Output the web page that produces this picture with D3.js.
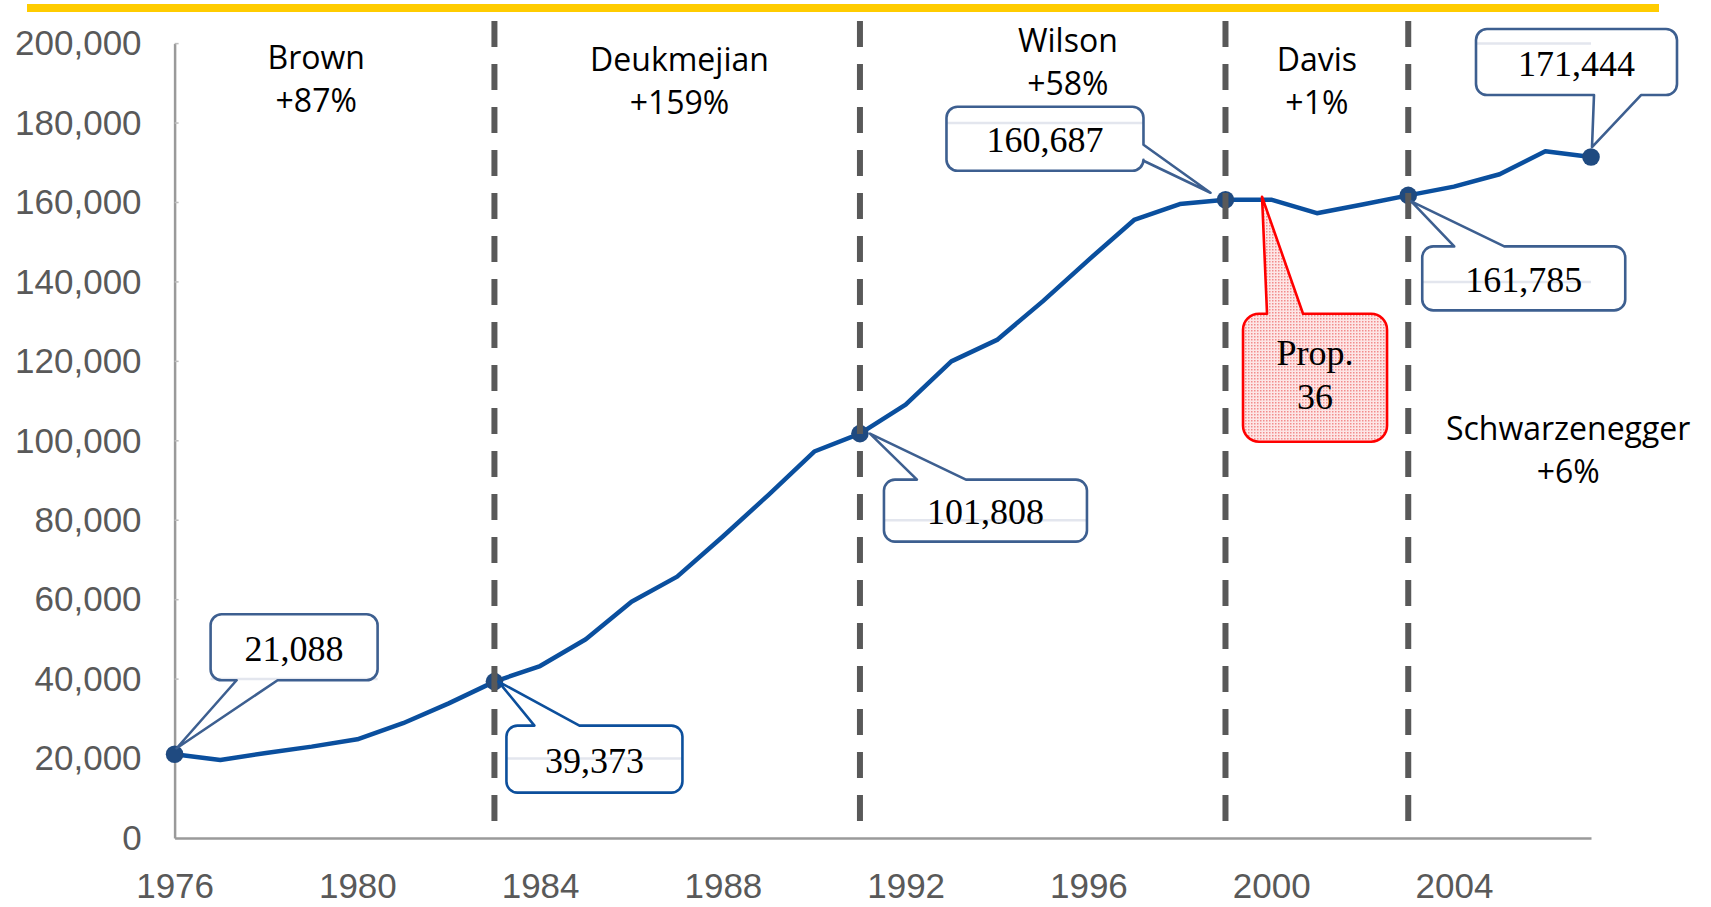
<!DOCTYPE html>
<html>
<head>
<meta charset="utf-8">
<script src="https://cdn.jsdelivr.net/npm/d3@7"></script>
<style>
  html, body { margin: 0; padding: 0; background: #fff; }
  svg { display: block; }
</style>
</head>
<body>
<div id="chart"></div>
<script>
// prison population by year
const years = d3.range(1976, 2008);
const inmates = [21088, 19650, 21400, 23000, 24860, 28900, 33900, 39373,
                 43300, 50050, 59500, 65800, 75900, 86400, 97300, 101808,
                 109100, 120000, 125400, 135100, 145500, 155600, 159600, 160687,
                 160700, 157300, 159500, 161785, 164000, 167100, 172900, 171444];

// governors
const govNames   = ["Brown", "Deukmejian", "Wilson", "Davis", "Schwarzenegger"];
const govChange  = ["+87%", "+159%", "+58%", "+1%", "+6%"];
const govBreaks  = [1983, 1991, 1999, 2003];
const labelYears = [1976, 1983, 1991, 1999, 2003, 2007];

const yTicks = d3.range(0, 200001, 20000);
const xTicks = [1976, 1980, 1984, 1988, 1992, 1996, 2000, 2004];

// where the governor names sit (year, value)
const govAnchorX = [1979.1, 1987.05, 1995.55, 2001.0, 2006.5];
const govAnchorY = [196500, 196000, 200600, 196000, 103000];

// callout boxes, offsets in px from the point
const callouts = {
  1976: {dx: [36, 203],   dy: [-140, -74], side: "bottom", p: [62, 103], tip: [2, -6]},
  1983: {dx: [12, 188],   dy: [44, 111],   side: "top",    p: [40, 85],  tip: [4, 0], stroke: "#0c4f9c"},
  1991: {dx: [24, 227],   dy: [46, 108],   side: "top",    p: [57, 106], tip: [10, 0]},
  1999: {dx: [-279, -82], dy: [-93, -29],  side: "right",  p: [-55, -39], tip: [-15, -7]},
  2003: {dx: [14, 217],   dy: [51, 115],   side: "top",    p: [46, 96],  tip: [3, 6]},
  2007: {dx: [-115, 86],  dy: [-128, -62], side: "bottom", p: [3, 50],   tip: [1, -10]}
};
const propYear = 1999.8, propValue = 160700;
const propBox = {dx: [-19, 125], dy: [114, 242], side: "top", p: [5, 41], tip: [0, -3]};

const W = 1711, H = 907;
const margin = {top: 43.6, right: 120, bottom: 69, left: 174.6};

const svg = d3.select("#chart").append("svg")
    .attr("width", W)
    .attr("height", H);

const x = d3.scaleLinear().domain([1976, 2007]).range([margin.left, W - margin.right]);
const y = d3.scaleLinear().domain([0, 200000]).range([H - margin.bottom, margin.top]);

// pink dotted fill for the Prop. 36 box
const defs = svg.append("defs");
const pat = defs.append("pattern")
    .attr("id", "dots")
    .attr("width", 3).attr("height", 3)
    .attr("patternUnits", "userSpaceOnUse");
pat.append("rect").attr("width", 3).attr("height", 3).attr("fill", "#fde6e6");
pat.append("rect").attr("width", 1.5).attr("height", 1.5).attr("fill", "#f28c8c");

// yellow rule along the top
svg.append("rect")
    .attr("x", 27).attr("y", 4)
    .attr("width", 1632).attr("height", 8)
    .attr("fill", "#ffcc00");

// axes
const yAxis = d3.axisLeft(y).tickValues(yTicks).tickFormat(d3.format(",")).tickSize(0).tickPadding(33);
const xAxis = d3.axisBottom(x).tickValues(xTicks).tickFormat(d3.format("d")).tickSize(0).tickPadding(35);

const gy = svg.append("g")
    .attr("transform", "translate(" + margin.left + ",0)")
    .call(yAxis);
const gx = svg.append("g")
    .attr("transform", "translate(0," + (H - margin.bottom) + ")")
    .call(xAxis);

[gx, gy].forEach(g => {
  g.select(".domain").attr("stroke", "#9a9a9a").attr("stroke-width", 2.5);
  g.selectAll("text")
    .attr("fill", "#595959")
    .style("font-family", "'Liberation Sans', Arial, sans-serif")
    .style("font-size", "35px");
});

// small inner ticks on the y axis
svg.append("g").selectAll("line")
  .data(yTicks.slice(1))
  .enter().append("line")
    .attr("x1", margin.left).attr("x2", margin.left + 4)
    .attr("y1", d => y(d)).attr("y2", d => y(d))
    .attr("stroke", "#bdbdbd").attr("stroke-width", 1.5);

// the series
const line = d3.line()
    .x((d, i) => x(years[i]))
    .y(d => y(d));

svg.append("path")
    .datum(inmates)
    .attr("fill", "none")
    .attr("stroke", "#0a4f9e")
    .attr("stroke-width", 4.5)
    .attr("stroke-linejoin", "round")
    .attr("d", line);

svg.selectAll(".dot")
  .data(labelYears)
  .enter().append("circle")
    .attr("class", "dot")
    .attr("cx", d => x(d))
    .attr("cy", d => y(inmates[years.indexOf(d)]))
    .attr("r", 8.8)
    .attr("fill", "#1f4a80");

// governor change lines
svg.selectAll(".gov")
  .data(govBreaks)
  .enter().append("line")
    .attr("class", "gov")
    .attr("x1", d => x(d)).attr("x2", d => x(d))
    .attr("y1", 21).attr("y2", H - margin.bottom - 6)
    .attr("stroke", "#595959")
    .attr("stroke-width", 6)
    .attr("stroke-dasharray", "26,17");

// governor labels
const gov = svg.append("g")
    .style("font-family", "'Open Sans', Lato, sans-serif")
    .style("font-size", "32px")
    .attr("text-anchor", "middle")
    .attr("fill", "#000");
govNames.forEach((name, i) => {
  const t = gov.append("text")
      .attr("x", x(govAnchorX[i]))
      .attr("y", y(govAnchorY[i]))
      .attr("dy", "0.35em");
  t.append("tspan").attr("x", x(govAnchorX[i])).text(name);
  t.append("tspan").attr("x", x(govAnchorX[i])).attr("dy", 43).text(govChange[i]);
});

// callout shape: rounded box with a wedge pointing to (tx, ty)
function calloutPath(b, tx, ty, r) {
  const p = d3.path();
  p.moveTo(b.x0 + r, b.y0);
  if (b.side === "top") { p.lineTo(b.p0, b.y0); p.lineTo(tx, ty); p.lineTo(b.p1, b.y0); }
  p.lineTo(b.x1 - r, b.y0);
  p.arcTo(b.x1, b.y0, b.x1, b.y0 + r, r);
  if (b.side === "right") { p.lineTo(b.x1, b.p0); p.lineTo(tx, ty); p.lineTo(b.x1, b.p1); }
  p.lineTo(b.x1, b.y1 - r);
  p.arcTo(b.x1, b.y1, b.x1 - r, b.y1, r);
  if (b.side === "bottom") { p.lineTo(b.p1, b.y1); p.lineTo(tx, ty); p.lineTo(b.p0, b.y1); }
  p.lineTo(b.x0 + r, b.y1);
  p.arcTo(b.x0, b.y1, b.x0, b.y1 - r, r);
  p.lineTo(b.x0, b.y0 + r);
  p.arcTo(b.x0, b.y0, b.x0 + r, b.y0, r);
  p.closePath();
  return p.toString();
}

function boxFor(px, py, c) {
  const b = {x0: px + c.dx[0], x1: px + c.dx[1], y0: py + c.dy[0], y1: py + c.dy[1], side: c.side};
  if (c.side === "right") { b.p0 = py + c.p[0]; b.p1 = py + c.p[1]; }
  else { b.p0 = px + c.p[0]; b.p1 = px + c.p[1]; }
  return b;
}

const fmt = d3.format(",");
const boxes = labelYears.map(yr => {
  const v = inmates[years.indexOf(yr)];
  const px = x(yr), py = y(v), c = callouts[yr];
  return {year: yr, value: v, b: boxFor(px, py, c), tx: px + c.tip[0], ty: py + c.tip[1], stroke: c.stroke || "#3d5f90"};
});

// gridlines only show through the callout boxes
const clip = defs.append("clipPath").attr("id", "boxclip");
boxes.forEach(d => {
  clip.append("rect")
    .attr("x", d.b.x0).attr("y", d.b.y0)
    .attr("width", d.b.x1 - d.b.x0).attr("height", d.b.y1 - d.b.y0 + 1);
});

const cg = svg.append("g");
cg.selectAll(".cbox")
  .data(boxes)
  .enter().append("path")
    .attr("class", "cbox")
    .attr("d", d => calloutPath(d.b, d.tx, d.ty, 11))
    .attr("fill", "#fff")
    .attr("stroke", "none");

cg.append("g")
    .attr("clip-path", "url(#boxclip)")
  .selectAll("line")
  .data(yTicks)
  .enter().append("line")
    .attr("x1", margin.left).attr("x2", x(2007))
    .attr("y1", d => y(d)).attr("y2", d => y(d))
    .attr("stroke", "#e3e6ee")
    .attr("stroke-width", 2.5);

cg.selectAll(".cline")
  .data(boxes)
  .enter().append("path")
    .attr("class", "cline")
    .attr("d", d => calloutPath(d.b, d.tx, d.ty, 11))
    .attr("fill", "none")
    .attr("stroke", d => d.stroke)
    .attr("stroke-width", 2.6)
    .attr("stroke-linejoin", "round");

cg.selectAll(".ctext")
  .data(boxes)
  .enter().append("text")
    .attr("class", "ctext")
    .attr("x", d => (d.b.x0 + d.b.x1) / 2)
    .attr("y", d => (d.b.y0 + d.b.y1) / 2 + 1)
    .attr("dy", "0.35em")
    .attr("text-anchor", "middle")
    .style("font-family", "'Liberation Serif', 'Times New Roman', serif")
    .style("font-size", "36px")
    .attr("fill", "#000")
    .text(d => fmt(d.value));

// Prop. 36 callout
const ppx = x(propYear), ppy = y(propValue);
const pb = boxFor(ppx, ppy, propBox);
svg.append("path")
    .attr("d", calloutPath(pb, ppx + propBox.tip[0], ppy + propBox.tip[1], 16))
    .attr("fill", "url(#dots)")
    .attr("stroke", "#ff0000")
    .attr("stroke-width", 2.6)
    .attr("stroke-linejoin", "round");

const pt = svg.append("text")
    .attr("text-anchor", "middle")
    .style("font-family", "'Liberation Serif', 'Times New Roman', serif")
    .style("font-size", "36px")
    .attr("fill", "#000");
const pcx = (pb.x0 + pb.x1) / 2;
pt.append("tspan").attr("x", pcx).attr("y", pb.y0 + 39).attr("dy", "0.35em").text("Prop.");
pt.append("tspan").attr("x", pcx).attr("y", pb.y0 + 83).attr("dy", "0.35em").text("36");
</script>
</body>
</html>
